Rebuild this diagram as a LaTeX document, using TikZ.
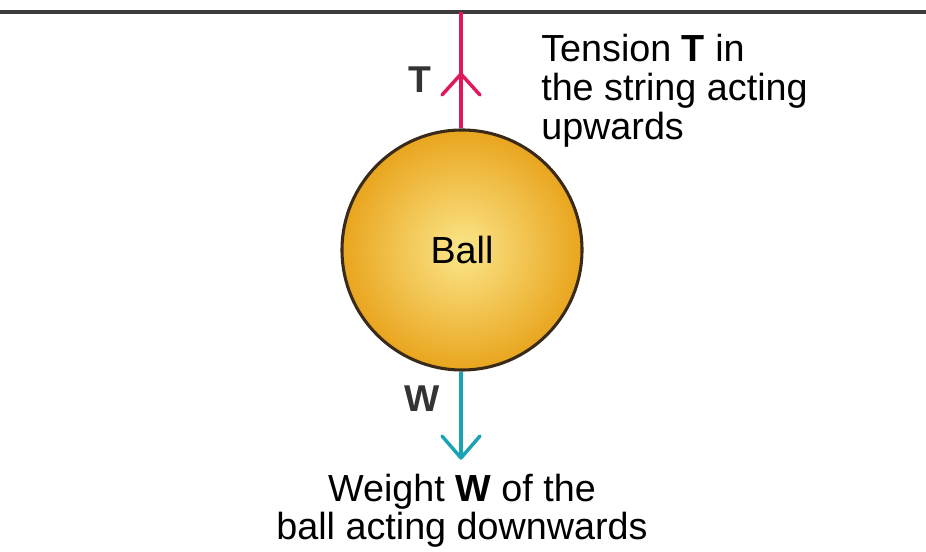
\documentclass[tikz,border=0pt]{standalone}
\usepackage{fontspec}
\setmainfont{Liberation Sans}
\usetikzlibrary{calc}
\definecolor{tensioncol}{HTML}{E0185A}
\definecolor{weightcol}{HTML}{1AA3B5}
\definecolor{ballin}{HTML}{FBE68A}
\definecolor{ballout}{HTML}{E9A51E}
\definecolor{ballrim}{HTML}{3A2A1A}
\definecolor{ceilcol}{HTML}{3C3C3C}
\begin{document}
\begin{tikzpicture}[x=0.75pt,y=-0.75pt,
  lbl/.style={font=\fontsize{28.3}{29.25}\selectfont, inner sep=0pt},
  forcelbl/.style={font=\fontsize{28}{29}\selectfont\bfseries, text=black!80, inner sep=0pt},
  chev/.style={line width=2.6pt, line cap=round, line join=round}]
\useasboundingbox (0,0) rectangle (926,552);
\coordinate (cl) at (0,12);
\coordinate (cr) at (926,12);
\draw[ceilcol, line width=2.3pt] (cl) -- (cr);
\node[circle, minimum size=240*0.75pt, draw=ballrim, line width=2.3pt,
  inner color=ballin, outer color=ballout, inner sep=0pt] (ball) at (462,250) {};
\node[lbl] at (ball.center) {Ball};
\coordinate (top) at (461,12);
\coordinate (ttip) at (461,74);
\coordinate (wtip) at (461,458);
\draw[tensioncol, line width=2.3pt] (top) -- (top |- ball.north);
\draw[tensioncol, chev] ($(ttip)+(-19,21)$) -- (ttip) -- ($(ttip)+(19,21)$);
\draw[weightcol, line width=2.3pt] (top |- ball.south) -- (wtip);
\draw[weightcol, chev] ($(wtip)+(-19,-22)$) -- (wtip) -- ($(wtip)+(19,-22)$);
\node[forcelbl] (tl) at (420,80) {T};
\node[forcelbl] (wl) at (422,399) {W};
\node[lbl, anchor=base west, align=left] (tt) at (541,140) {Tension \textbf{T} in\\the string acting\\upwards};
\node[lbl, anchor=base, align=center, font=\fontsize{28.3}{28.5}\selectfont] (wt) at (462,540) {Weight \textbf{W} of the\\ball acting downwards};
\end{tikzpicture}
\end{document}
